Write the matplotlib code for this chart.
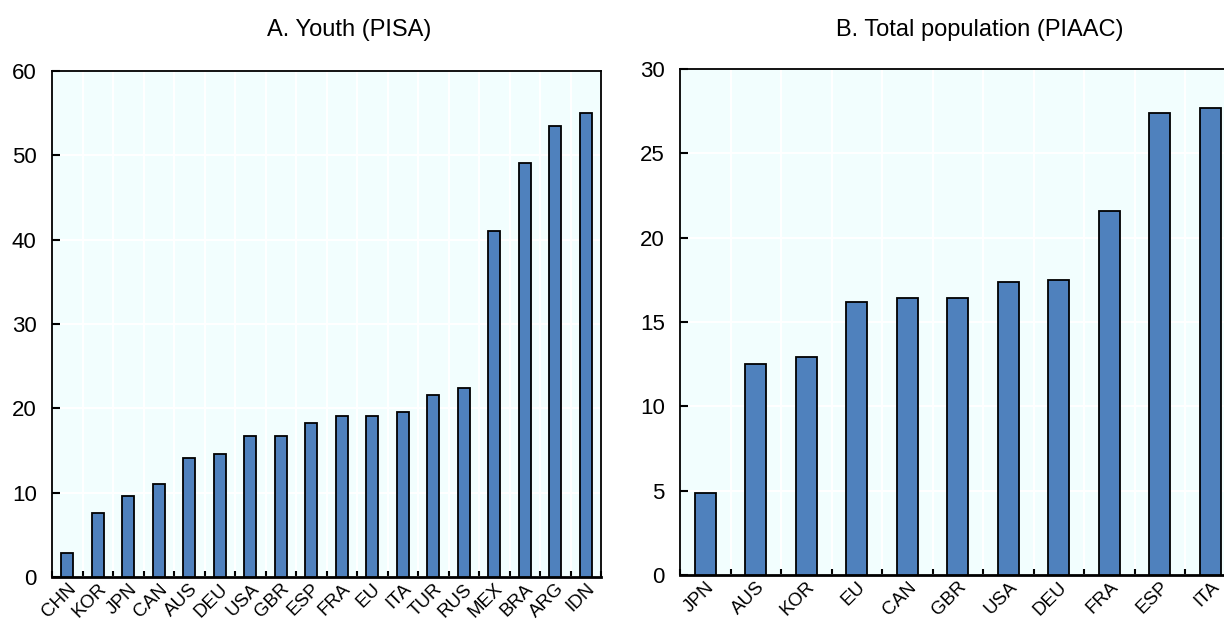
import matplotlib.pyplot as plt
import matplotlib.transforms as mtransforms
import numpy as np

# Panel A: youth (PISA)
youth_countries = ["CHN", "KOR", "JPN", "CAN", "AUS", "DEU", "USA", "GBR", "ESP",
                   "FRA", "EU", "ITA", "TUR", "RUS", "MEX", "BRA", "ARG", "IDN"]
youth_values = [2.8, 7.6, 9.6, 11.0, 14.1, 14.6, 16.7, 16.7, 18.3,
                19.1, 19.1, 19.6, 21.6, 22.4, 41.0, 49.1, 53.5, 55.0]

# Panel B: total population (PIAAC)
adult_countries = ["JPN", "AUS", "KOR", "EU", "CAN", "GBR", "USA", "DEU", "FRA", "ESP", "ITA"]
adult_values = [4.86, 12.5, 12.9, 16.2, 16.4, 16.4, 17.4, 17.5, 21.6, 27.4, 27.7]

BAR = "#4F81BD"
BG = "#F2FEFE"

plt.rcParams['font.family'] = ['Liberation Sans', 'DejaVu Sans']
plt.rcParams['font.size'] = 15


def draw_panel(fig, ax, labels, values, ymax, ystep, width):
    n = len(labels)
    x = np.arange(n)
    ax.set_facecolor(BG)
    ax.bar(x, values, width=width, color=BAR, edgecolor="black", linewidth=1.3, zorder=3)
    ax.set_xlim(-0.5, n - 0.5)
    ax.set_ylim(0, ymax)
    ax.set_yticks(np.arange(0, ymax + 0.1, ystep))
    ax.set_xticks(x)
    ax.set_xticklabels(labels, rotation=45, ha="right", va="top",
                       rotation_mode="anchor", fontsize=13.5)
    # shift the slanted labels a little to the right of the bar centre
    shift = mtransforms.ScaledTranslation(6 / 100, 0, fig.dpi_scale_trans)
    for lab in ax.get_xticklabels():
        lab.set_transform(lab.get_transform() + shift)
    ax.set_xticks(np.arange(n + 1) - 0.5, minor=True)
    # white grid: horizontal at y ticks, vertical between categories
    ax.grid(axis="y", which="major", color="white", linewidth=1.5, zorder=0)
    ax.grid(axis="x", which="minor", color="white", linewidth=1.5, zorder=0)
    ax.set_axisbelow(True)
    ax.tick_params(axis="y", direction="in", length=6, width=1.5, pad=11, labelsize=16)
    ax.tick_params(axis="x", which="major", length=0, pad=2.5)
    ax.tick_params(axis="x", which="minor", direction="in", length=4, width=1.5)
    for side in ["left", "right", "top"]:
        ax.spines[side].set_linewidth(1.3)
    ax.spines["bottom"].set_linewidth(2)


fig = plt.figure(figsize=(12.24, 6.19), dpi=100)
W, H = 1224, 619

ax1 = fig.add_axes([52 / W, (H - 577) / H, (601 - 52) / W, (577 - 71) / H])
draw_panel(fig, ax1, youth_countries, youth_values, 60, 10, 0.38)

ax2 = fig.add_axes([680 / W, (H - 575) / H, 555.5 / W, (575 - 69) / H])
draw_panel(fig, ax2, adult_countries, adult_values, 30, 5, 0.42)

fig.text(349 / W, 1 - 30 / H, "A. Youth (PISA)", ha="center", va="center", fontsize=17)
fig.text(980 / W, 1 - 30 / H, "B. Total population (PIAAC)", ha="center", va="center", fontsize=17)

fig.savefig("out.png", dpi=100)
